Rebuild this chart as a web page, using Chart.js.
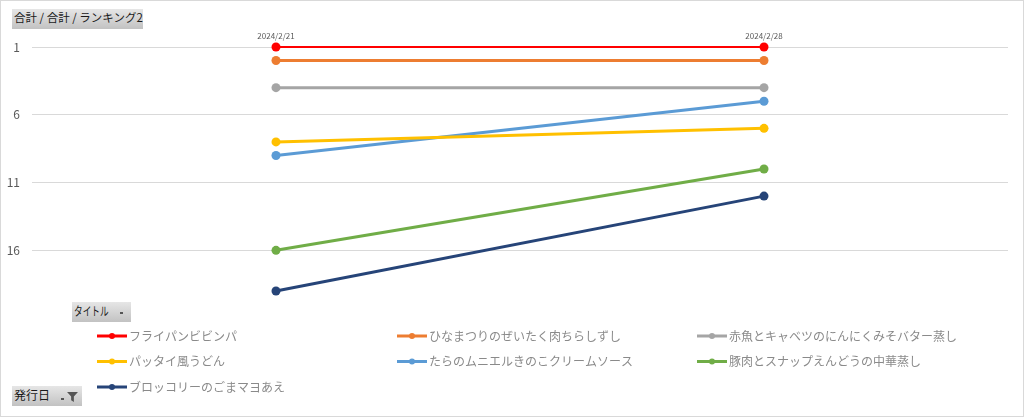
<!DOCTYPE html>
<html>
<head>
<meta charset="utf-8">
<script src="https://cdn.jsdelivr.net/npm/chart.js@4/dist/chart.umd.min.js"></script>
<style>
  html, body { margin:0; padding:0; background:#fff; }
  #wrap { position:relative; width:1024px; height:417px; overflow:hidden; }
  #frame { position:absolute; left:0; top:0; width:1024px; height:417px; box-sizing:border-box; border:1px solid #d9d9d9; pointer-events:none; }
  canvas { position:absolute; left:0; top:0; }
  .btn { position:absolute; height:20px; line-height:20px; font:12px "Noto Sans CJK JP", sans-serif; color:#1a1a1a;
         background:linear-gradient(#e6e6e6, #c2c2c2); padding:0 2px; box-sizing:border-box; white-space:nowrap; }
  .dd { position:absolute; width:3px; height:2px; background:#555; top:10px; }
  .narrow { display:inline-block; transform:scaleX(0.72); transform-origin:left center; }
</style>
</head>
<body>
<div id="wrap">
  <canvas id="c" width="1024" height="417"></canvas>
  <div class="btn" style="left:12px;top:9px;width:131px;font-size:11.5px;">合計 / 合計 / ランキング2</div>
  <div class="btn" style="left:72px;top:302px;width:59px;"><span class="narrow">タイトル</span><span class="dd" style="left:48px;"></span></div>
  <div class="btn" style="left:12px;top:386px;width:70px;">発行日<span class="dd" style="left:49px;top:12px;"></span>
    <svg width="11" height="10" viewBox="0 0 12 11" style="position:absolute;left:55px;top:6px;"><path d="M0 0H12L7.5 5V11L4.5 9V5Z" fill="#555"/></svg>
  </div>
  <div id="frame"></div>
</div>
<script>
// ── Data ─────────────────────────────────────────────
const dates = ['2024/2/21', '2024/2/28'];
const yTicks = [1, 6, 11, 16];

const titles = [
  'フライパンビビンパ',
  'ひなまつりのぜいたく肉ちらしずし',
  '赤魚とキャベツのにんにくみそバター蒸し',
  'パッタイ風うどん',
  'たらのムニエルきのこクリームソース',
  '豚肉とスナップえんどうの中華蒸し',
  'ブロッコリーのごまマヨあえ'
];
const colors = ['#ff0000', '#ed7d31', '#a5a5a5', '#ffc000', '#5b9bd5', '#70ad47', '#264478'];

const bibimbapRank  = [1, 1];
const chirashiRank  = [2, 2];
const akauoRank     = [4, 4];
const padThaiRank   = [8, 7];
const taraRank      = [9, 5];
const butaRank      = [16, 10];
const broccoliRank  = [19, 12];

const ranks = [bibimbapRank, chirashiRank, akauoRank, padThaiRank, taraRank, butaRank, broccoliRank];

const FONT = '"Noto Sans CJK JP", "Noto Sans", sans-serif';

// ── Legend drawn in 3 columns under the plot ─────────
const gridLegend = {
  id: 'gridLegend',
  afterDraw(chart) {
    const ctx = chart.ctx;
    ctx.save();
    ctx.font = '12px ' + FONT;
    ctx.textBaseline = 'middle';
    chart.data.datasets.forEach((ds, i) => {
      const x = 97 + (i % 3) * 300;
      const y = 336 + Math.floor(i / 3) * 25.5;
      ctx.strokeStyle = ds.borderColor;
      ctx.lineWidth = 3;
      ctx.beginPath(); ctx.moveTo(x, y); ctx.lineTo(x + 30, y); ctx.stroke();
      ctx.fillStyle = ds.borderColor;
      ctx.beginPath(); ctx.arc(x + 15, y, 3, 0, Math.PI * 2); ctx.fill();
      ctx.fillStyle = '#8a8a8a';
      ctx.fillText(ds.label, x + 32, y);
    });
    ctx.restore();
  }
};

new Chart(document.getElementById('c'), {
  type: 'line',
  data: {
    labels: dates,
    datasets: titles.map((t, i) => ({
      label: t,
      data: ranks[i],
      borderColor: colors[i],
      backgroundColor: colors[i],
      borderWidth: i === 0 ? 2 : 3,
      pointRadius: 4.5,
      pointHoverRadius: 4.5,
      pointBorderWidth: 0,
      tension: 0,
      clip: false
    }))
  },
  options: {
    responsive: false,
    animation: false,
    layout: { padding: { top: 0, right: 16, bottom: 126, left: 0 } },
    plugins: { legend: { display: false }, tooltip: { enabled: false } },
    scales: {
      x: {
        position: 'top',
        offset: true,
        grid: { display: false, drawTicks: false },
        border: { display: false },
        ticks: { color: '#595959', font: { size: 8, family: FONT }, padding: 6, maxRotation: 0 },
        afterFit(s) { s.height = 47; }
      },
      y: {
        reverse: true,
        min: 1,
        max: 19,
        afterBuildTicks(s) { s.ticks = yTicks.map(v => ({ value: v })); },
        grid: { color: '#d9d9d9', drawTicks: false },
        border: { display: false },
        ticks: { color: '#595959', font: { size: 12, family: FONT }, padding: 12 },
        afterFit(s) { s.width = 32; }
      }
    }
  },
  plugins: [gridLegend]
});
</script>
</body>
</html>
